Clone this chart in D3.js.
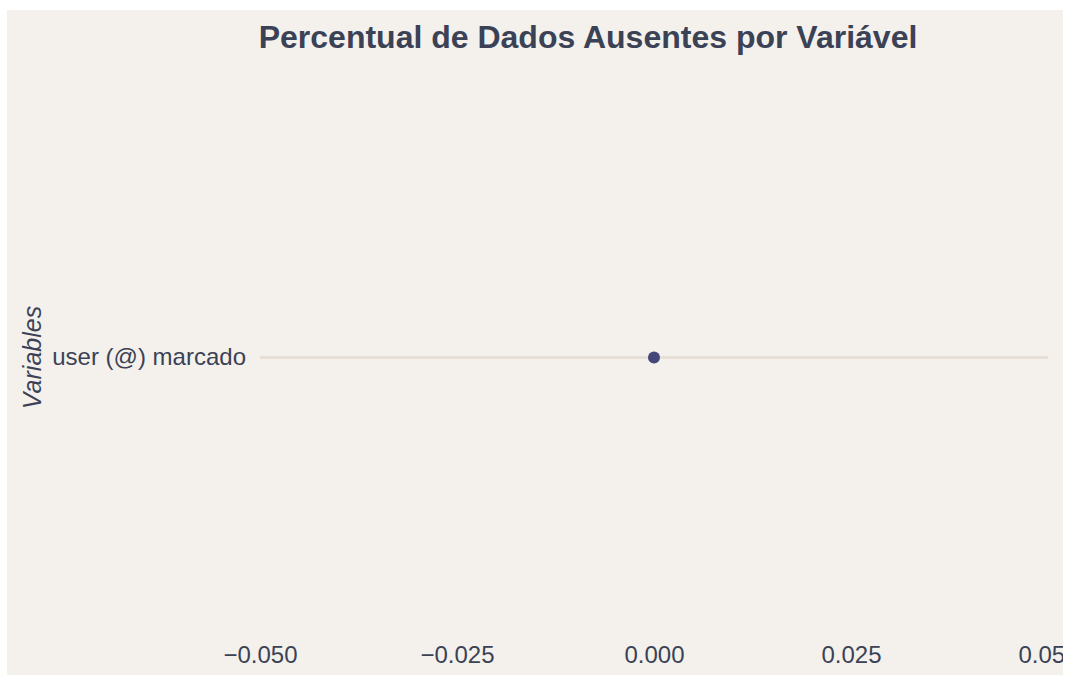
<!DOCTYPE html>
<html>
<head>
<meta charset="utf-8">
<script src="https://cdn.jsdelivr.net/npm/d3@7"></script>
<style>
  html, body { margin: 0; padding: 0; background: #ffffff; }
  svg { display: block; }
  text { font-family: "Liberation Sans", Arial, sans-serif; }
</style>
</head>
<body>
<svg id="chart" width="1069" height="675"></svg>
<script>
// Share of missing values per variable
const variables = ["user (@) marcado"];
const missingPct = [0];
const xTicks = [-0.05, -0.025, 0, 0.025, 0.05];
const titleText = "Percentual de Dados Ausentes por Variável";
const yTitle = "Variables";

const svg = d3.select("#chart");
const W = 1069, H = 675;
const ink = "#3b4256";
const fontStack = "Liberation Sans, Arial, sans-serif";

// panel background, clipped at its edges
svg.append("defs").append("clipPath").attr("id", "panelClip")
  .append("rect").attr("x", 7).attr("y", 10).attr("width", 1056).attr("height", H - 10);

const panel = svg.append("g").attr("clip-path", "url(#panelClip)");
panel.append("rect").attr("x", 7).attr("y", 10).attr("width", 1056).attr("height", H - 10)
  .attr("fill", "#f4f1ec");

const plot = { left: 260, right: 1048, top: 80, bottom: 635 };

const x = d3.scaleLinear().domain([-0.05, 0.05]).range([plot.left, plot.right]);
const y = d3.scaleBand().domain(variables).range([plot.top, plot.bottom]);

// title
panel.append("text")
  .attr("x", 588).attr("y", 48)
  .attr("text-anchor", "middle")
  .attr("font-size", 32).attr("font-weight", "bold")
  .attr("font-family", fontStack)
  .attr("fill", ink)
  .text(titleText);

// row grid lines
panel.append("g").selectAll("line").data(variables).join("line")
  .attr("x1", plot.left).attr("x2", plot.right)
  .attr("y1", d => y(d) + y.bandwidth() / 2)
  .attr("y2", d => y(d) + y.bandwidth() / 2)
  .attr("stroke", "#e7dfd5").attr("stroke-width", 3);

// x axis (labels only)
const xAxis = d3.axisBottom(x).tickValues(xTicks).tickFormat(d3.format(".3f")).tickSize(0).tickPadding(0);
const gx = panel.append("g").attr("transform", `translate(0,${plot.bottom + 11})`).call(xAxis);
gx.attr("font-family", fontStack).attr("font-size", 24);
gx.select(".domain").remove();
gx.selectAll("text").attr("fill", ink);

// y axis (labels only)
const yAxis = d3.axisLeft(y).tickSize(0).tickPadding(14);
const gy = panel.append("g").attr("transform", `translate(${plot.left},0)`).call(yAxis);
gy.attr("font-family", fontStack).attr("font-size", 24);
gy.select(".domain").remove();
gy.selectAll("text").attr("fill", ink);

// y axis title
panel.append("text")
  .attr("transform", `translate(41,${(plot.top + plot.bottom) / 2}) rotate(-90)`)
  .attr("text-anchor", "middle")
  .attr("font-size", 25).attr("font-style", "italic")
  .attr("font-family", fontStack)
  .attr("fill", ink)
  .text(yTitle);

// points
panel.append("g").selectAll("circle").data(variables).join("circle")
  .attr("cx", (d, i) => x(missingPct[i]))
  .attr("cy", d => y(d) + y.bandwidth() / 2)
  .attr("r", 6)
  .attr("fill", "#434779");
</script>
</body>
</html>
